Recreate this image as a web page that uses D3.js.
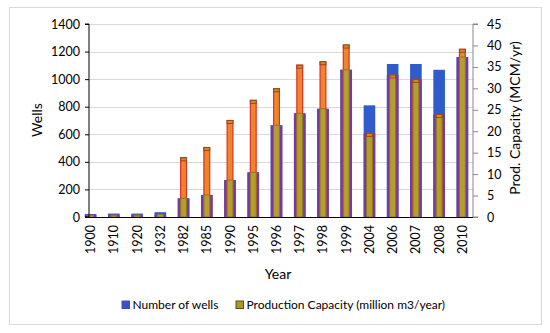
<!DOCTYPE html>
<html>
<head>
<meta charset="utf-8">
<script src="https://d3js.org/d3.v7.min.js"></script>
<style>
  body { margin: 0; background: #fff; }
  svg { font-family: Lato, "Open Sans", sans-serif; }
</style>
</head>
<body>
<div id="chart"></div>
<script>
// datos
const years = ["1900", "1910", "1920", "1932", "1982", "1985", "1990", "1995", "1996",
  "1997", "1998", "1999", "2004", "2006", "2007", "2008", "2010"];
const wells = [22, 25, 25, 35, 135, 160, 268, 324, 665, 752, 785, 1068, 810, 1110, 1110, 1068, 1160];
const capacity = [0.4, 0.4, 0.4, 0.6, 13.8, 16.2, 22.5, 27.2, 29.9, 35.4, 36.2, 40.1, 19.5, 33.1, 32.1, 23.9, 39.1];
const wellTicks = [0, 200, 400, 600, 800, 1000, 1200, 1400];
const capTicks = [0, 5, 10, 15, 20, 25, 30, 35, 40, 45];

const width = 550, height = 333;
const svg = d3.select("#chart").append("svg")
  .attr("width", width)
  .attr("height", height);

// marco del grafico
svg.append("rect")
  .attr("x", 9.5).attr("y", 7.5)
  .attr("width", 532).attr("height", 317)
  .attr("fill", "#fff")
  .attr("stroke", "#d9d9d9");

const axisX = 89, rightX = 473, plotTop = 24, plotBottom = 217;

const x = d3.scaleBand().domain(years).range([79, 474]);
const yL = d3.scaleLinear().domain([0, 1400]).range([plotBottom, plotTop]);
const yR = d3.scaleLinear().domain([0, 45]).range([plotBottom, plotTop]);

// lineas de cuadricula
svg.append("g").selectAll("line")
  .data(wellTicks.slice(1))
  .enter().append("line")
  .attr("x1", axisX).attr("x2", rightX)
  .attr("y1", d => Math.round(yL(d)) + 0.5)
  .attr("y2", d => Math.round(yL(d)) + 0.5)
  .attr("stroke", "#d9d9d9");

const step = x.step();
const wW = step * 0.5, cW = step * 0.25;
const center = d => x(d) + step / 2;

const rows = years.map((y, i) => ({ year: y, w: wells[i], c: capacity[i] }));

// barras de pozos
svg.append("g").selectAll("rect")
  .data(rows)
  .enter().append("rect")
  .attr("x", d => center(d.year) - wW / 2)
  .attr("width", wW)
  .attr("y", d => yL(d.w))
  .attr("height", d => plotBottom - yL(d.w))
  .attr("fill", "#2f5cca");

// zona solapada (morada)
svg.append("g").selectAll("rect")
  .data(rows)
  .enter().append("rect")
  .attr("x", d => center(d.year) - wW / 2)
  .attr("width", wW)
  .attr("y", d => Math.max(yL(d.w), yR(d.c)))
  .attr("height", d => plotBottom - Math.max(yL(d.w), yR(d.c)))
  .attr("fill", "#7539a6");

// barras de capacidad
svg.append("g").selectAll("rect")
  .data(rows)
  .enter().append("rect")
  .attr("x", d => center(d.year) - cW / 2)
  .attr("width", cW)
  .attr("y", d => yR(d.c))
  .attr("height", d => plotBottom - yR(d.c))
  .attr("fill", "#f0842c")
  .attr("stroke", "#d8322a")
  .attr("stroke-width", 1.2);

svg.append("g").selectAll("rect")
  .data(rows)
  .enter().append("rect")
  .attr("x", d => center(d.year) - cW / 2)
  .attr("width", cW)
  .attr("y", d => Math.max(yL(d.w), yR(d.c)))
  .attr("height", d => plotBottom - Math.max(yL(d.w), yR(d.c)))
  .attr("fill", "#b59e2e")
  .attr("stroke", "#8a7a22")
  .attr("stroke-width", 1);

// tapa superior de capacidad
svg.append("g").selectAll("rect")
  .data(rows.filter(d => d.c > 2))
  .enter().append("rect")
  .attr("x", d => center(d.year) - cW / 2)
  .attr("width", cW)
  .attr("y", d => yR(d.c))
  .attr("height", 3)
  .attr("fill", "#c0952a")
  .attr("stroke", "#a0401e")
  .attr("stroke-width", 1);

// eje izquierdo
const leftAxis = svg.append("g")
  .attr("transform", `translate(${axisX},0)`)
  .call(d3.axisLeft(yL).tickValues(wellTicks).tickFormat(d3.format("d")).tickSize(4).tickPadding(5));
leftAxis.select(".domain").attr("stroke", "#000").attr("d", `M-4,${plotBottom}H0V${plotTop}H-4`);
leftAxis.selectAll("text").attr("font-size", 12.5).attr("fill", "#000")
  .attr("font-family", "Lato, sans-serif");

// eje derecho
const rightAxis = svg.append("g")
  .attr("transform", `translate(${rightX},0)`)
  .call(d3.axisRight(yR).tickValues(capTicks).tickFormat(d3.format("d")).tickSize(5).tickPadding(9));
rightAxis.select(".domain").attr("stroke", "#888").attr("d", `M5,${plotBottom}H0V${plotTop}H5`);
rightAxis.selectAll(".tick line").attr("stroke", "#888");
rightAxis.selectAll("text").attr("font-size", 12.5).attr("fill", "#000")
  .attr("font-family", "Lato, sans-serif");

// eje de categorias
svg.append("line")
  .attr("x1", 85).attr("x2", rightX)
  .attr("y1", plotBottom + 0.5).attr("y2", plotBottom + 0.5)
  .attr("stroke", "#000").attr("stroke-width", 1.2);

svg.append("g").selectAll("text")
  .data(years)
  .enter().append("text")
  .attr("transform", d => `translate(${center(d) + 4.5},${plotBottom + 8}) rotate(-90)`)
  .attr("text-anchor", "end")
  .attr("font-size", 12.5)
  .attr("fill", "#000")
  .text(d => d);

// titulos de ejes
svg.append("text")
  .attr("transform", "translate(42,120) rotate(-90)")
  .attr("text-anchor", "middle")
  .attr("font-size", 14)
  .text("Wells");

svg.append("text")
  .attr("transform", "translate(520,118) rotate(-90)")
  .attr("text-anchor", "middle")
  .attr("font-size", 14)
  .text("Prod. Capacity (MCM/yr)");

svg.append("text")
  .attr("x", 278).attr("y", 279)
  .attr("text-anchor", "middle")
  .attr("font-size", 14)
  .text("Year");

// leyenda
const legend = [
  { label: "Number of wells", fill: "#3c50c0", stroke: "#3c50c0", x: 122 },
  { label: "Production Capacity (million m3/year)", fill: "#a89a2a", stroke: "#5a4a10", x: 236 }
];
const lg = svg.append("g").selectAll("g")
  .data(legend)
  .enter().append("g")
  .attr("transform", d => `translate(${d.x},301)`);
lg.append("rect")
  .attr("width", 7.5).attr("height", 7.5)
  .attr("fill", d => d.fill)
  .attr("stroke", d => d.stroke);
lg.append("text")
  .attr("x", 10.5).attr("y", 8)
  .attr("font-size", 12)
  .text(d => d.label);
</script>
</body>
</html>
